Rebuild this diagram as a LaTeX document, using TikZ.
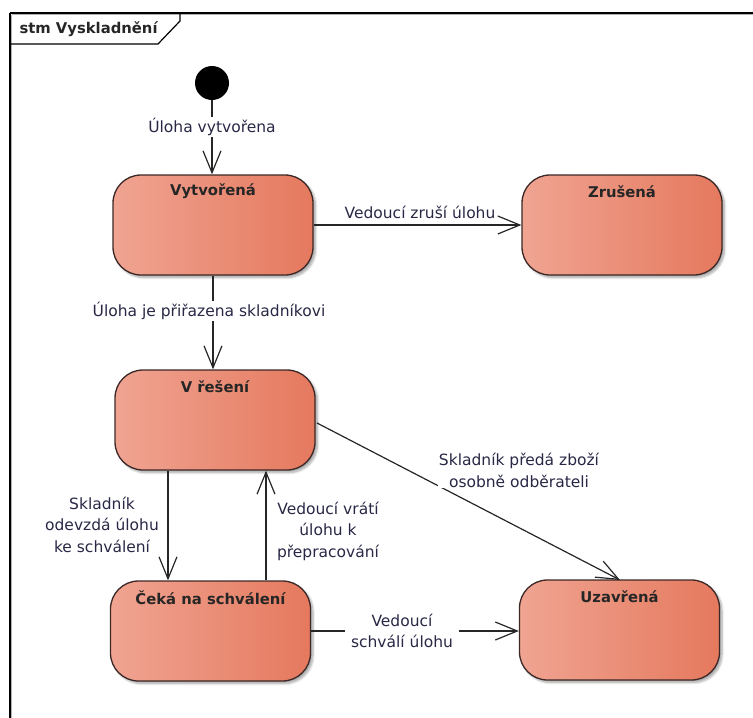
\documentclass[tikz,border=0pt]{standalone}
\usepackage{fontspec}
\setmainfont{DejaVu Sans}
\usetikzlibrary{arrows.meta,shadows.blur,calc}

\definecolor{stateL}{RGB}{240,164,146}
\definecolor{stateR}{RGB}{229,121,94}
\definecolor{stateEdge}{RGB}{60,40,38}
\definecolor{labelInk}{RGB}{40,40,70}

\tikzset{
  state/.style={
    draw=stateEdge, line width=1.3pt, rounded corners=28pt,
    left color=stateL, right color=stateR,
    minimum width=200pt, minimum height=100pt, inner sep=0pt,
    blur shadow={shadow xshift=2.5pt, shadow yshift=-2.5pt,
                 shadow blur steps=6, shadow opacity=35}
  },
  statename/.style={anchor=center, yshift=-17pt,
    font=\fontsize{14.8}{17}\selectfont\bfseries, text=black!85},
  trans/.style={draw=black!85, line width=1.2pt,
    -{Straight Barb[length=22pt,width=18pt,line width=1.2pt]}},
  guard/.style={font=\fontsize{15.5}{21.5}\selectfont, text=labelInk,
    align=center, inner sep=1.5pt},
  guardbg/.style={guard, fill=white},
}

\begin{document}
\begin{tikzpicture}[x=1pt,y=-1pt]
\useasboundingbox (0,0) rectangle (753,718);

% diagram frame with its name tab
\draw[black!30, line width=1.2pt] (11.5,14.5) -- (753,14.5);
\draw[black!30, line width=1.2pt] (11.5,14.5) -- (11.5,718);
\draw[black, line width=1.2pt] (10,13) -- (753,13);
\draw[black, line width=1.2pt] (10,13) -- (10,718);
\draw[black, line width=1.2pt] (180,13) -- (180,21) -- (158,44) -- (10,44);
\node[anchor=west, font=\fontsize{14.8}{17}\selectfont\bfseries, text=black!85]
  (frametitle) at (16,29) {stm Vyskladnění};

% initial pseudostate
\node[circle, fill=black, minimum size=34pt, inner sep=0pt] (init) at (212,83) {};

% states
\node[state, label={[statename]north:Vytvořená}] (vytvorena) at (213,225) {};
\node[state, label={[statename]north:Zrušená}] (zrusena) at (622,225) {};
\node[state, label={[statename]north:V řešení}] (vreseni) at (215,420) {};
\node[state, label={[statename]north:Čeká na schválení}] (ceka) at (210.5,631) {};
\node[state, label={[statename]north:Uzavřená}] (uzavrena) at (619.5,630) {};

% transitions
\draw[trans] (init.south) -- (vytvorena.north -| init.south);
\draw[trans] (vytvorena.east) -- (zrusena.west);
\draw[trans] (vytvorena.south) -- (vreseni.north -| vytvorena.south);
\coordinate (downx) at (168,0);
\coordinate (upx) at (266,0);
\draw[trans] (vreseni.south -| downx) -- (ceka.north -| downx);
\draw[trans] (ceka.north -| upx) -- (vreseni.south -| upx);
\coordinate (diagstart) at (317,423);
\coordinate (diagend) at (620,580);
\draw[trans] (diagstart) -- (diagend);
\draw[trans] (ceka.east) -- (uzavrena.west |- ceka.east);

% guards
\node[guardbg] (g1) at (212,127) {Úloha vytvořena};
\node[guard] (g2) at (420,212) {Vedoucí zruší úlohu};
\node[guardbg] (g3) at (209,311) {Úloha je přiřazena skladníkovi};
\node[guard] (g4) at (102,524.5) {Skladník\\odevzdá úlohu\\ke schválení};
\node[guard] (g5) at (328,531) {Vedoucí vrátí\\úlohu k\\přepracování};
\node[guardbg, inner sep=0.5pt] (g6) at (519,470.5) {Skladník předá zboží\\osobně odběrateli};
\node[guardbg, inner xsep=6pt] (g7) at (402,631) {Vedoucí\\schválí úlohu};
\end{tikzpicture}
\end{document}
